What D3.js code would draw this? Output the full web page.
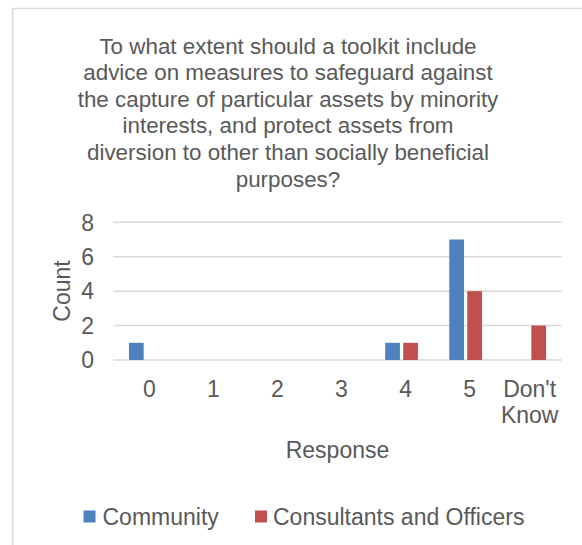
<!DOCTYPE html>
<html><head><meta charset="utf-8">
<script src="https://cdn.jsdelivr.net/npm/d3@7"></script>
<style>body{margin:0;background:#fff}svg{display:block}text{font-family:"Liberation Sans",Arial,sans-serif;fill:#595959}</style>
</head><body>
<script>
const titleLines = ["To what extent should a toolkit include","advice on measures to safeguard against","the capture of particular assets by minority","interests, and protect assets from","diversion to other than socially beneficial","purposes?"];
const categories = ["0","1","2","3","4","5","Don't Know"];
const seriesNames = ["Community","Consultants and Officers"];
const community = [1,0,0,0,1,7,0];
const consultants = [0,0,0,0,1,4,2];
const yTicks = [0,2,4,6,8];
const colors = ["#4F81BD","#C0504D"];

const W=582,H=545,fs=23,tfs=22.4;
const svg=d3.select("body").append("svg").attr("width",W).attr("height",H);
svg.append("rect").attr("x",12.5).attr("y",8.5).attr("width",W+10).attr("height",H+10).attr("fill","#fff").attr("stroke","#D9D9D9").attr("stroke-width",1.5);

svg.append("text").attr("text-anchor","middle").attr("font-size",tfs)
  .selectAll("tspan").data(titleLines).join("tspan").attr("x",288).attr("y",(d,i)=>53.5+i*26.6).text(d=>d);

const x=d3.scaleBand().domain(categories).range([113.3,561.7]).padding(0);
const y=d3.scaleLinear().domain([0,8]).range([360,222.3]);
const bw=14.7, gap=3.3;

svg.append("g").selectAll("line").data(yTicks).join("line")
  .attr("x1",113.3).attr("x2",561.7).attr("y1",d=>y(d)).attr("y2",d=>y(d))
  .attr("stroke","#D9D9D9").attr("stroke-width",1.5);

svg.append("g").selectAll("text").data(yTicks).join("text")
  .attr("x",94).attr("y",d=>y(d)+8.3).attr("text-anchor","end").attr("font-size",fs).text(d=>d);

const series=[community,consultants];
series.forEach((vals,si)=>{
  svg.append("g").selectAll("rect").data(categories.map((c,i)=>({c,v:vals[i]})).filter(d=>d.v>0)).join("rect")
    .attr("x",d=>x(d.c)+x.bandwidth()/2 + (si===0 ? -gap/2-bw : gap/2))
    .attr("width",bw).attr("y",d=>y(d.v)).attr("height",d=>y(0)-y(d.v)).attr("fill",colors[si]);
});

const xl=svg.append("g");
categories.forEach((c,i)=>{
  const words = c==="Don't Know" ? ["Don't","Know"] : [c];
  const cx = x(c)+x.bandwidth()/2 + (words.length>1?0:4);
  const t=xl.append("text").attr("text-anchor","middle").attr("font-size",fs);
  words.forEach((w,j)=>t.append("tspan").attr("x",cx).attr("y",396.5+j*26).text(w));
});

svg.append("text").attr("x",337.5).attr("y",457.5).attr("text-anchor","middle").attr("font-size",fs).text("Response");
svg.append("text").attr("transform","translate(70,291) rotate(-90)").attr("text-anchor","middle").attr("font-size",fs).text("Count");

const leg=[{x:83.5,tx:102.5},{x:255,tx:273}];
seriesNames.forEach((n,i)=>{
  svg.append("rect").attr("x",leg[i].x).attr("y",510.5).attr("width",12).attr("height",12).attr("fill",colors[i]);
  svg.append("text").attr("x",leg[i].tx).attr("y",525).attr("font-size",fs).text(n);
});
</script>
</body></html>
